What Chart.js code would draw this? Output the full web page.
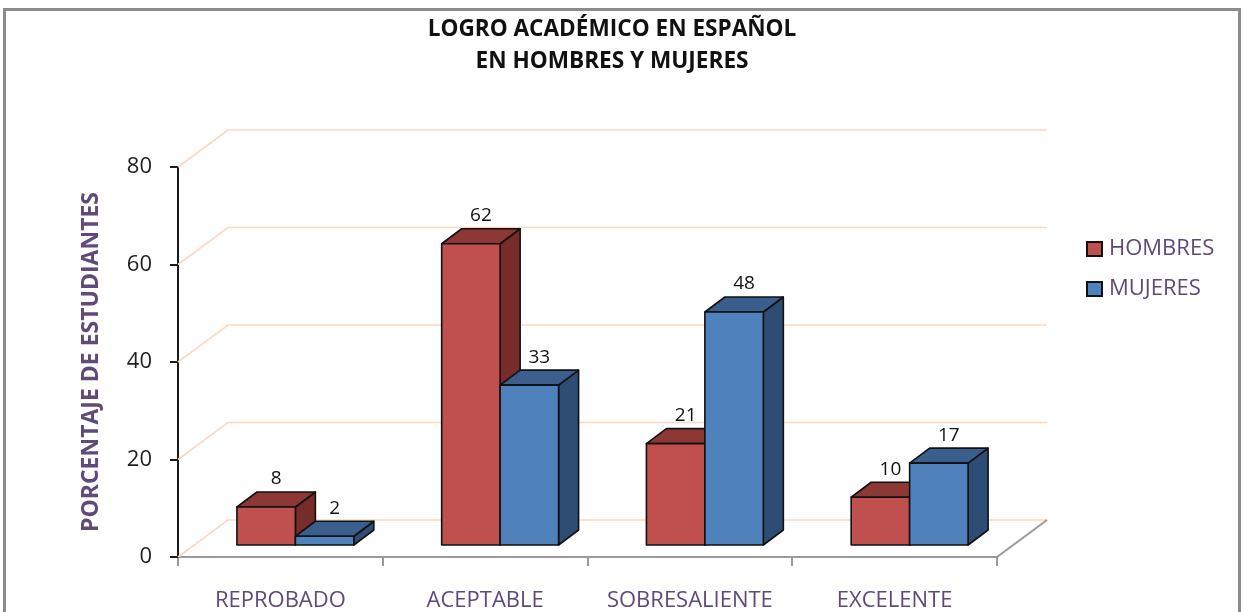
<!DOCTYPE html>
<html>
<head>
<meta charset="utf-8">
<script src="https://cdn.jsdelivr.net/npm/chart.js@4.4.1/dist/chart.umd.min.js"></script>
<style>
    html, body { margin: 0; padding: 0; background: #fff; }
</style>
</head>
<body>
<canvas id="logro" width="1244" height="612"></canvas>
<script>
// datos
const categorias = ['REPROBADO', 'ACEPTABLE', 'SOBRESALIENTE', 'EXCELENTE'];
const hombres = [8, 62, 21, 10];
const mujeres = [2, 33, 48, 17];
const ticksY = [0, 20, 40, 60, 80];

const fuente = "'Open Sans', sans-serif";
const morado = '#5f497a';

// caras de las barras: frente, tapa, lado
const caras = {
    HOMBRES: ['#c0504d', '#8e3835', '#772c2a'],
    MUJERES: ['#4f81bd', '#3a5f8c', '#2e4d75']
};

// desplazamientos de la perspectiva
const fondo = { dx: 50, dy: -37 };
const barra = { ox: 15, oy: -11, dx: 20, dy: -15 };

function prisma(ctx, x0, x1, yTop, yBase, colores) {
    const { dx, dy } = barra;
    ctx.lineWidth = 1.6;
    ctx.strokeStyle = '#111';
    ctx.lineJoin = 'round';

    // lado
    ctx.beginPath();
    ctx.moveTo(x1, yTop);
    ctx.lineTo(x1 + dx, yTop + dy);
    ctx.lineTo(x1 + dx, yBase + dy);
    ctx.lineTo(x1, yBase);
    ctx.closePath();
    ctx.fillStyle = colores[2];
    ctx.fill();
    ctx.stroke();

    // tapa
    ctx.beginPath();
    ctx.moveTo(x0, yTop);
    ctx.lineTo(x0 + dx, yTop + dy);
    ctx.lineTo(x1 + dx, yTop + dy);
    ctx.lineTo(x1, yTop);
    ctx.closePath();
    ctx.fillStyle = colores[1];
    ctx.fill();
    ctx.stroke();

    // frente
    ctx.fillStyle = colores[0];
    ctx.fillRect(x0, yTop, x1 - x0, yBase - yTop);
    ctx.strokeRect(x0, yTop, x1 - x0, yBase - yTop);
}

const escena3d = {
    id: 'escena3d',
    beforeDraw(chart) {
        const ctx = chart.ctx;
        ctx.save();
        ctx.fillStyle = '#fff';
        ctx.fillRect(0, 0, chart.width, chart.height);
        ctx.strokeStyle = '#8c8c8c';
        ctx.lineWidth = 3;
        ctx.strokeRect(4.5, 9.5, chart.width - 9, chart.height + 40);
        ctx.restore();
    },
    beforeDatasetsDraw(chart) {
        const { ctx, chartArea, scales } = chart;
        const { left, right, bottom } = chartArea;
        ctx.save();
        // lineas de division en la pared del fondo
        ctx.strokeStyle = '#fbd9c0';
        ctx.lineWidth = 1.6;
        scales.y.ticks.forEach(t => {
            const y = scales.y.getPixelForValue(t.value);
            ctx.beginPath();
            ctx.moveTo(left, y);
            ctx.lineTo(left + fondo.dx, y + fondo.dy);
            ctx.lineTo(right + fondo.dx, y + fondo.dy);
            ctx.stroke();
        });
        // borde derecho del piso
        ctx.strokeStyle = '#9a9a9a';
        ctx.lineWidth = 2;
        ctx.beginPath();
        ctx.moveTo(right, bottom);
        ctx.lineTo(right + fondo.dx, bottom + fondo.dy);
        ctx.stroke();
        ctx.restore();
    },
    beforeDatasetDraw() {
        return false;
    },
    afterDatasetsDraw(chart) {
        const ctx = chart.ctx;
        const metas = chart.data.datasets.map((d, i) => chart.getDatasetMeta(i));
        ctx.save();
        categorias.forEach((c, j) => {
            metas.forEach((meta, i) => {
                const el = meta.data[j];
                const { x, y, base, width } = el.getProps(['x', 'y', 'base', 'width'], true);
                const x0 = x - width / 2 + barra.ox;
                const x1 = x + width / 2 + barra.ox;
                prisma(ctx, x0, x1, y + barra.oy, base + barra.oy, caras[chart.data.datasets[i].label]);
            });
        });
        // etiquetas de datos
        ctx.fillStyle = '#111';
        ctx.font = '19px ' + fuente;
        ctx.textAlign = 'center';
        ctx.textBaseline = 'middle';
        metas.forEach((meta, i) => {
            const valores = chart.data.datasets[i].data;
            meta.data.forEach((el, j) => {
                const { x, y } = el.getProps(['x', 'y'], true);
                ctx.fillText(String(valores[j]), x + barra.ox + 10, y + barra.oy - 28);
            });
        });
        ctx.restore();
    },
    afterDraw(chart) {
        // leyenda
        const ctx = chart.ctx;
        const x = chart.chartArea.right + 90;
        ctx.save();
        ctx.font = '22px ' + fuente;
        ctx.textBaseline = 'middle';
        chart.data.datasets.forEach((d, i) => {
            const yc = 249 + i * 40;
            ctx.fillStyle = d.backgroundColor;
            ctx.fillRect(x, yc - 7, 15, 14);
            ctx.strokeStyle = '#111';
            ctx.lineWidth = 2;
            ctx.strokeRect(x, yc - 7, 15, 14);
            ctx.fillStyle = morado;
            ctx.fillText(d.label, x + 22, yc);
        });
        ctx.restore();
    }
};

const grafico = new Chart(document.getElementById('logro'), {
    type: 'bar',
    data: {
        labels: categorias,
        datasets: [{
            label: 'HOMBRES',
            data: hombres,
            backgroundColor: caras.HOMBRES[0],
            categoryPercentage: 0.571,
            barPercentage: 1.0
        }, {
            label: 'MUJERES',
            data: mujeres,
            backgroundColor: caras.MUJERES[0],
            categoryPercentage: 0.571,
            barPercentage: 1.0
        }]
    },
    options: {
        responsive: false,
        animation: false,
        layout: { padding: { left: 0, right: 20, top: 0, bottom: 0 } },
        plugins: {
            legend: { display: false },
            tooltip: { enabled: false },
            title: {
                display: true,
                text: ['LOGRO ACADÉMICO EN ESPAÑOL', 'EN HOMBRES Y MUJERES'],
                color: '#111',
                font: { family: fuente, size: 22.6, weight: 'bold', lineHeight: '32px' },
                padding: { top: 14, bottom: 89 }
            }
        },
        scales: {
            x: {
                offset: true,
                grid: { offset: true, drawOnChartArea: false, drawTicks: true, tickLength: 9, color: '#9a9a9a', lineWidth: 2 },
                border: { display: true, color: '#9a9a9a', width: 2 },
                ticks: { color: morado, font: { family: fuente, size: 22 }, padding: 22, maxRotation: 0, autoSkip: false },
                afterFit(s) { s.height = 55; }
            },
            y: {
                min: 0,
                max: 80,
                afterBuildTicks(s) { s.ticks = ticksY.map(v => ({ value: v })); },
                grid: { drawOnChartArea: false, drawTicks: true, tickLength: 8, color: '#1a1a1a', lineWidth: 2 },
                border: { display: true, color: '#1a1a1a', width: 2 },
                ticks: { color: '#1f1f1f', font: { family: fuente, size: 22 }, padding: 18 },
                title: {
                    display: true,
                    text: 'PORCENTAJE DE ESTUDIANTES',
                    color: '#604a7b',
                    font: { family: fuente, size: 23, weight: 'bold' },
                    padding: { top: 78, bottom: 0 }
                },
                afterFit(s) { s.width = 178; }
            },
            relleno: {
                type: 'linear',
                axis: 'y',
                position: 'right',
                min: 0,
                max: 1,
                grid: { display: false },
                border: { display: false },
                ticks: { display: false },
                afterFit(s) { s.width = 227; }
            }
        }
    },
    plugins: [escena3d]
});
</script>
</body>
</html>
